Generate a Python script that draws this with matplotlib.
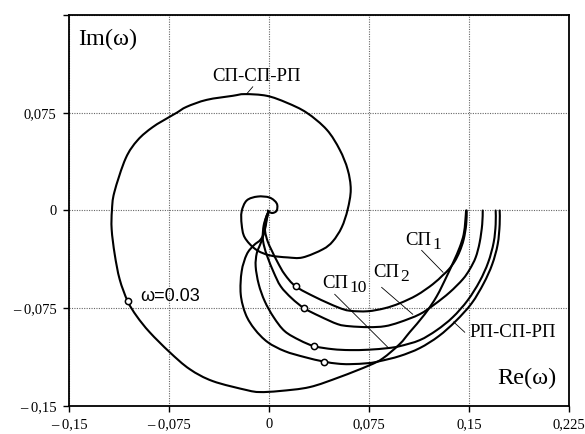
import matplotlib
matplotlib.use("Agg")
import matplotlib.pyplot as plt
from matplotlib.path import Path
from matplotlib.patches import PathPatch

# ---- data ----
big_x = [0.1478, 0.1472, 0.1460, 0.1430, 0.1385, 0.1333, 0.1258, 0.1168, 0.1055, 0.0980,
         0.0853, 0.0748, 0.0530, 0.0305, 0.0080, -0.0070, -0.0167, -0.0422, -0.0595, -0.0745,
         -0.0895, -0.0992, -0.1060, -0.1120, -0.1157, -0.1180, -0.1178, -0.1160, -0.1075, -0.0985,
         -0.0872, -0.0745, -0.0692, -0.0617, -0.0467, -0.0272, -0.0182, -0.0017, 0.0133, 0.0283,
         0.0433, 0.0530, 0.0590, 0.0613, 0.0590, 0.0545, 0.0478, 0.0403, 0.0253, 0.0140,
         0.0005, -0.0100, -0.0182, -0.0205, -0.0205, -0.0167, -0.0085, 0.0005, 0.0058, 0.0058,
         0.0028, 0.0000, -0.0010]
big_y = [0.0000, -0.0084, -0.0184, -0.0283, -0.0390, -0.0505, -0.0658, -0.0796, -0.0934, -0.1025,
         -0.1135, -0.1190, -0.1278, -0.1355, -0.1385, -0.1393, -0.1378, -0.1309, -0.1217, -0.1087,
         -0.0934, -0.0811, -0.0696, -0.0528, -0.0337, -0.0145, 0.0000, 0.0140, 0.0400, 0.0540,
         0.0640, 0.0719, 0.0750, 0.0796, 0.0849, 0.0880, 0.0893, 0.0880, 0.0827, 0.0750,
         0.0620, 0.0467, 0.0314, 0.0161, 0.0008, -0.0130, -0.0237, -0.0298, -0.0360, -0.0360,
         -0.0344, -0.0298, -0.0207, -0.0107, -0.0008, 0.0077, 0.0107, 0.0099, 0.0054, 0.0000,
         -0.0019, -0.0011, 0.0000]

sp1_x = [0.1483, 0.1479, 0.1460, 0.1430, 0.1393, 0.1348, 0.1303, 0.1228, 0.1108, 0.0980,
         0.0868, 0.0740, 0.0605, 0.0515, 0.0350, 0.0200, 0.0118, 0.0065, 0.0020, -0.0010,
         -0.0029, -0.0029, -0.0014, -0.0002]
sp1_y = [0.0000, -0.0107, -0.0222, -0.0314, -0.0390, -0.0452, -0.0497, -0.0566, -0.0650, -0.0712,
         -0.0750, -0.0773, -0.0769, -0.0742, -0.0666, -0.0582, -0.0490, -0.0398, -0.0306, -0.0237,
         -0.0161, -0.0084, -0.0031, -0.0008]

sp2_x = [0.1603, 0.1599, 0.1580, 0.1550, 0.1505, 0.1453, 0.1355, 0.1243, 0.1130, 0.0980,
         0.0868, 0.0748, 0.0605, 0.0515, 0.0380, 0.0264, 0.0170, 0.0088, 0.0035, -0.0010,
         -0.0036, -0.0047, -0.0040, -0.0017, -0.0002]
sp2_y = [0.0000, -0.0107, -0.0245, -0.0360, -0.0452, -0.0528, -0.0628, -0.0719, -0.0796, -0.0857,
         -0.0888, -0.0895, -0.0888, -0.0872, -0.0811, -0.0750, -0.0673, -0.0582, -0.0474, -0.0360,
         -0.0276, -0.0207, -0.0115, -0.0038, -0.0008]

sp10_x = [0.1700, 0.1700, 0.1685, 0.1644, 0.1580, 0.1490, 0.1378, 0.1258, 0.1130, 0.0980,
          0.0890, 0.0748, 0.0605, 0.0478, 0.0339, 0.0230, 0.0118, 0.0035, -0.0032, -0.0077,
          -0.0100, -0.0092, -0.0066, -0.0040, -0.0025, -0.0010, -0.0002]
sp10_y = [0.0000, -0.0107, -0.0245, -0.0398, -0.0543, -0.0689, -0.0819, -0.0918, -0.0995, -0.1041,
          -0.1056, -0.1068, -0.1071, -0.1064, -0.1041, -0.0995, -0.0926, -0.0819, -0.0696, -0.0566,
          -0.0429, -0.0329, -0.0260, -0.0184, -0.0099, -0.0031, -0.0008]

rp_x = [0.1730, 0.1730, 0.1715, 0.1674, 0.1610, 0.1520, 0.1400, 0.1273, 0.1130, 0.0980,
        0.0830, 0.0748, 0.0605, 0.0515, 0.0410, 0.0268, 0.0118, -0.0010, -0.0107, -0.0175,
        -0.0212, -0.0205, -0.0167, -0.0115, -0.0062, -0.0032, -0.0017, -0.0002]
rp_y = [0.0000, -0.0107, -0.0260, -0.0413, -0.0559, -0.0712, -0.0849, -0.0964, -0.1056, -0.1117,
        -0.1156, -0.1171, -0.1179, -0.1175, -0.1159, -0.1125, -0.1079, -0.1010, -0.0911, -0.0796,
        -0.0643, -0.0467, -0.0337, -0.0268, -0.0222, -0.0153, -0.0069, -0.0008]

# markers (omega = 0.03)
mark_x = [-0.1058, 0.0200, 0.0264, 0.0339, 0.0410]
mark_y = [-0.0695, -0.0582, -0.0750, -0.1041, -0.1159]

x_ticks = [-0.15, -0.075, 0, 0.075, 0.15, 0.225]
x_tick_labels = ['– 0,15', '– 0,075', '0', '0,075', '0,15', '0,225']
y_ticks = [-0.15, -0.075, 0, 0.075, 0.15]
y_tick_labels = ['– 0,15', '– 0,075', '0', '0,075', '']

# curve labels: main text, subscript, label position, leader start, leader end
labels = [
    ('СП-СП-РП', '', (-0.0422, 0.1026), (-0.0122, 0.0949), (-0.0167, 0.0895)),
    ('СП', '1', (0.1025, -0.0230), (0.1145, -0.0306), (0.1305, -0.0474)),
    ('СП', '2', (0.0785, -0.0475), (0.0845, -0.0590), (0.1078, -0.0796)),
    ('СП', '10', (0.0400, -0.0560), (0.0493, -0.0643), (0.0890, -0.1048)),
    ('РП-СП-РП', '', (0.1505, -0.0934), (0.1468, -0.0934), (0.1385, -0.0855)),
]

plt.rcParams['font.family'] = ['Liberation Serif', 'DejaVu Serif']

fig = plt.figure(figsize=(5.85, 4.34), dpi=100)
ax = fig.add_axes([69/585, 1-406/434, 500/585, 391/434])
ax.set_xlim(-0.15, 0.225)
ax.set_ylim(-0.15, 0.15)

ax.set_xticks(x_ticks)
ax.set_xticklabels(x_tick_labels)
ax.set_yticks(y_ticks)
ax.set_yticklabels(y_tick_labels)
ax.tick_params(direction='out', length=4, width=1, labelsize=10.5, pad=5)
ax.grid(True, color='#666666', linestyle=(0, (1, 1.2)), linewidth=0.8)
ax.set_axisbelow(True)
for s in ax.spines.values():
    s.set_linewidth(1.3)
    s.set_color('black')


def smooth_path(xs, ys):
    """Catmull-Rom rendering of the read points as cubic Bezier segments."""
    pts = list(zip(xs, ys))
    verts = [pts[0]]
    codes = [Path.MOVETO]
    n = len(pts)
    for i in range(n - 1):
        p0 = pts[i - 1] if i > 0 else pts[i]
        p1 = pts[i]
        p2 = pts[i + 1]
        p3 = pts[i + 2] if i + 2 < n else pts[i + 1]
        c1 = (p1[0] + (p2[0] - p0[0]) / 6.0, p1[1] + (p2[1] - p0[1]) / 6.0)
        c2 = (p2[0] - (p3[0] - p1[0]) / 6.0, p2[1] - (p3[1] - p1[1]) / 6.0)
        verts += [c1, c2, p2]
        codes += [Path.CURVE4, Path.CURVE4, Path.CURVE4]
    return Path(verts, codes)


lw = 1.5
for xs, ys in [(big_x, big_y), (sp1_x, sp1_y), (sp2_x, sp2_y), (sp10_x, sp10_y), (rp_x, rp_y)]:
    ax.add_patch(PathPatch(smooth_path(xs, ys), facecolor='none', edgecolor='black',
                           linewidth=lw, capstyle='round', joinstyle='round', zorder=3))

ax.plot(mark_x, mark_y, linestyle='none', marker='o', markersize=4.5,
        markerfacecolor='white', markeredgecolor='black', markeredgewidth=1.1, zorder=4)

for txt, sub, pos, l0, l1 in labels:
    t = ax.text(pos[0], pos[1], txt, fontsize=13.5, ha='left', va='center', zorder=5)
    if sub:
        ax.annotate(sub, xy=(1, 0), xycoords=t, xytext=(0.6, -3.2),
                    textcoords='offset points', ha='left', va='bottom', fontsize=12.5, zorder=5)
    ax.plot([l0[0], l1[0]], [l0[1], l1[1]], color='black', linewidth=0.6, zorder=3)

ax.text(-0.1432, 0.131, 'Im(ω)', fontsize=17.5, ha='left', va='center')
ax.text(0.1715, -0.1285, 'Re(ω)', fontsize=17.5, ha='left', va='center')
ax.text(-0.0968, -0.0658, 'ω=0.03', fontsize=13, ha='left', va='center',
        family=['Liberation Sans', 'DejaVu Sans'])

fig.savefig('out.png', dpi=100)
